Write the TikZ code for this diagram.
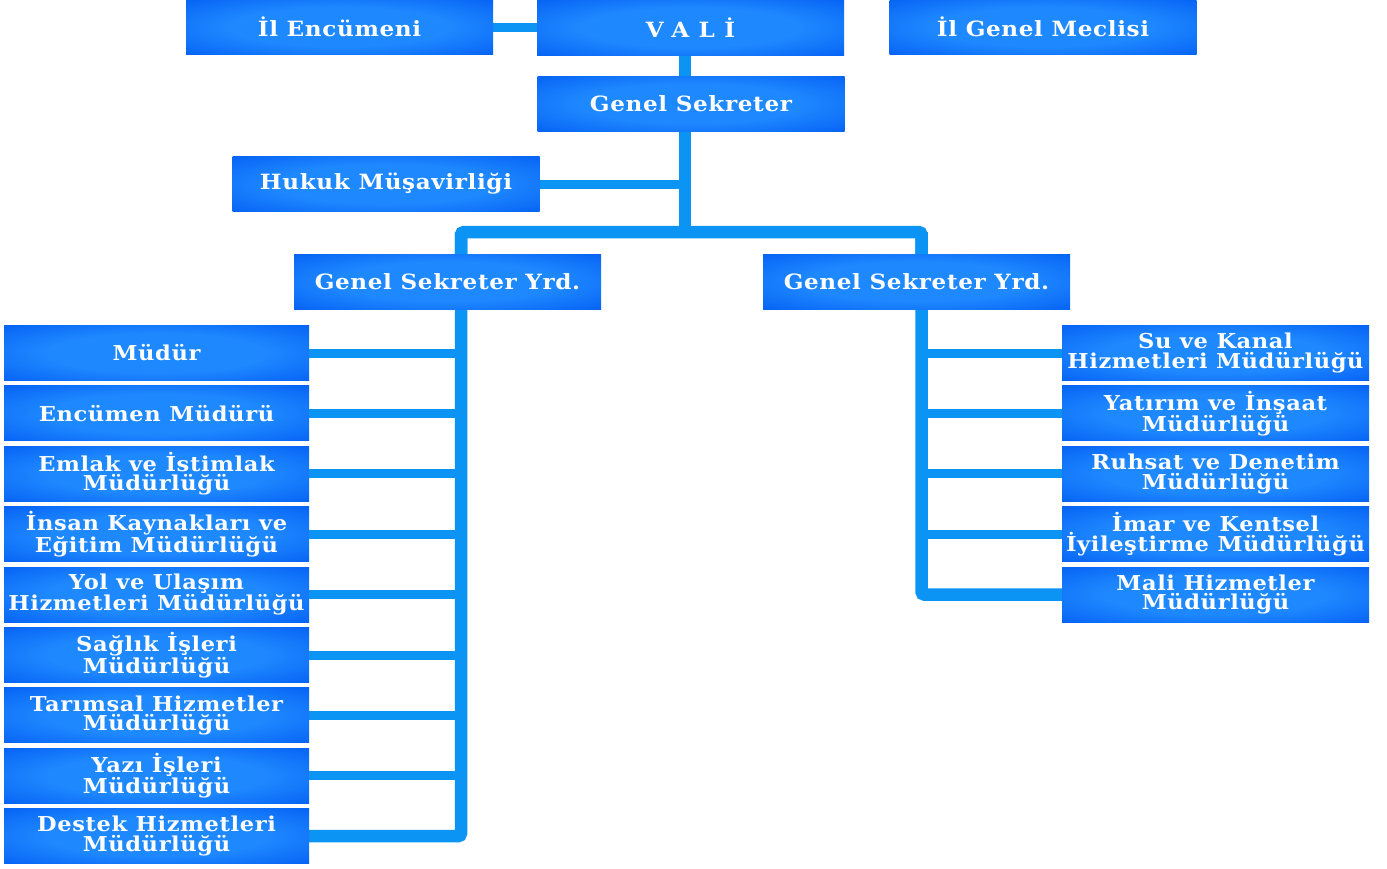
\documentclass[tikz,border=0pt]{standalone}
\usepackage{fontspec}
\setmainfont{DejaVu Serif}[LetterSpace=3, FakeStretch=1.1]
\usepackage{tikz}
\usetikzlibrary{calc}
\pgfdeclarelayer{background}
\pgfsetlayers{background,main}

\definecolor{boxdark}{RGB}{0,76,232}
\definecolor{boxmid}{RGB}{6,98,244}
\definecolor{boxlight}{RGB}{30,136,255}
\definecolor{linkblue}{RGB}{12,148,245}
\pgfdeclareradialshading{boxglow}{\pgfpoint{0bp}{0bp}}{color(0bp)=(boxlight); color(18bp)=(boxlight); color(36bp)=(boxmid); color(50bp)=(boxdark)}

\begin{document}
\begin{tikzpicture}[x=1pt, y=-1pt,
    unit/.style={shading=boxglow, minimum width=307pt, minimum height=55pt, inner sep=0pt,
                 text=white, align=center, font=\bfseries\fontsize{20.5}{19.5}\selectfont},
    head/.style={unit, font=\bfseries\fontsize{21}{19}\selectfont},
    trunk/.style={draw=linkblue, line width=12.5pt},
    branch/.style={draw=linkblue, line width=9pt}]

      \useasboundingbox (0,0) rectangle (1387,868);

      % Define list spacing
      \def\pitch{60.4}
      \def\ytop{353}

      % Top of the chart
      \node[head] (ilenc)  at (339.5, 27)   {İl Encümeni};
      \node[head] (vali)   at (690.5, 27.5) {\addfontfeature{LetterSpace=45}VALİ};
      \node[head] (meclis) at (1043, 27)    {İl Genel Meclisi};
      \node[head] (gensek) at (691, 103.5)  {Genel Sekreter};
      \node[head] (hukuk)  at (386, 184)    {Hukuk Müşavirliği};
      \node[head] (lyrd)   at (447.5, 281.5) {Genel Sekreter Yrd.};
      \node[head] (ryrd)   at (916.5, 281.5) {Genel Sekreter Yrd.};

      \coordinate (fork)  at (685, 232);
      \coordinate (lfork) at (461, 232);
      \coordinate (rfork) at (921.5, 232);

      % Left list
      \foreach \i/\nm/\txt in {0/mudur/{Müdür}, 1/encmud/{Encümen Müdürü},
          2/emlak/{Emlak ve İstimlak\\Müdürlüğü}, 3/insan/{İnsan Kaynakları ve\\Eğitim Müdürlüğü},
          4/yol/{Yol ve Ulaşım\\Hizmetleri Müdürlüğü}, 5/saglik/{Sağlık İşleri\\Müdürlüğü},
          6/tarim/{Tarımsal Hizmetler\\Müdürlüğü}, 7/yazi/{Yazı İşleri\\Müdürlüğü},
          8/destek/{Destek Hizmetleri\\Müdürlüğü}}
        \node[unit, minimum width=305pt] (\nm) at (156.5, \ytop+\pitch*\i) {\txt};

      % Right list
      \foreach \i/\nm/\txt in {0/su/{Su ve Kanal\\Hizmetleri Müdürlüğü},
          1/yatirim/{Yatırım ve İnşaat\\Müdürlüğü}, 2/ruhsat/{Ruhsat ve Denetim\\Müdürlüğü},
          3/imar/{İmar ve Kentsel\\İyileştirme Müdürlüğü}, 4/mali/{Mali Hizmetler\\Müdürlüğü}}
        \node[unit] (\nm) at (1215.5, \ytop+\pitch*\i) {\txt};

      % Connectors behind the boxes
      \begin{pgfonlayer}{background}
        \draw[branch] (ilenc.east) -- (ilenc.east -| vali.west);
        \draw[trunk] (vali.south -| fork) -- (gensek.north -| fork);
        \draw[trunk] (gensek.south -| fork) -- (fork);
        \draw[branch] (hukuk.east) -- (hukuk.east -| fork);
        \draw[trunk, rounded corners=3pt] (lfork |- lyrd.north) |- (rfork) -- (rfork |- ryrd.north);
        \draw[trunk, rounded corners=3pt] (lfork) |- (destek.east);
        \draw[trunk, rounded corners=3pt] (rfork) |- (mali.west);
        \foreach \nm in {mudur, encmud, emlak, insan, yol, saglik, tarim, yazi}
          \draw[branch] (\nm.east) -- (\nm.east -| lfork);
        \foreach \nm in {su, yatirim, ruhsat, imar}
          \draw[branch] (\nm.west) -- (\nm.west -| rfork);
      \end{pgfonlayer}
    \end{tikzpicture}
\end{document}
